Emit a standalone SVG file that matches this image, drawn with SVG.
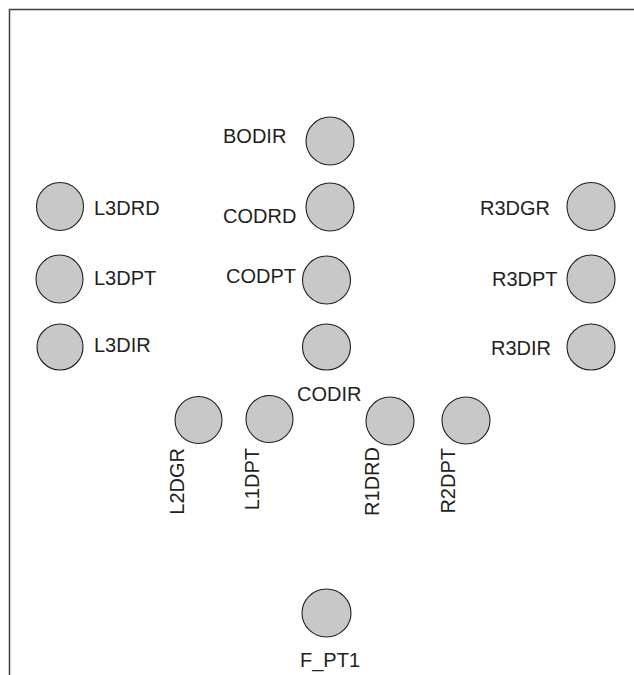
<svg xmlns="http://www.w3.org/2000/svg" width="634" height="675" viewBox="0 0 634 675">
<style>
.n{fill:#c8c8c8;stroke:#231f20;stroke-width:1.1}
.t{font-family:"Liberation Sans",Arial,sans-serif;font-size:20px;fill:#231f20}
.v{font-family:"Liberation Sans",Arial,sans-serif;font-size:20px;fill:#231f20;text-anchor:end}
</style>
<path d="M9.5,675 V9.5 H634" fill="none" stroke="#404040" stroke-width="1.5"/>
<g id="connectors"/>
<g id="BODIR"><ellipse class="n" cx="330" cy="141" rx="24" ry="24"/><text class="t" x="223" y="143">BODIR</text></g>
<g id="CODRD"><ellipse class="n" cx="330" cy="207" rx="24" ry="24"/><text class="t" x="223" y="223">CODRD</text></g>
<g id="CODPT"><ellipse class="n" cx="326.5" cy="280" rx="24" ry="24"/><text class="t" x="226" y="283">CODPT</text></g>
<g id="CODIR"><ellipse class="n" cx="326.5" cy="347" rx="24" ry="23"/><text class="t" x="297" y="401">CODIR</text></g>
<g id="L3DRD"><ellipse class="n" cx="60" cy="206.5" rx="23.5" ry="24"/><text class="t" x="94" y="215">L3DRD</text></g>
<g id="L3DPT"><ellipse class="n" cx="59.5" cy="279" rx="23.5" ry="24"/><text class="t" x="94" y="285">L3DPT</text></g>
<g id="L3DIR"><ellipse class="n" cx="60" cy="347" rx="23" ry="23"/><text class="t" x="94" y="352">L3DIR</text></g>
<g id="R3DGR"><ellipse class="n" cx="591" cy="206.5" rx="24" ry="24"/><text class="t" x="480" y="215">R3DGR</text></g>
<g id="R3DPT"><ellipse class="n" cx="591" cy="279" rx="24" ry="24"/><text class="t" x="492" y="286">R3DPT</text></g>
<g id="R3DIR"><ellipse class="n" cx="591" cy="347" rx="24" ry="23"/><text class="t" x="491" y="355">R3DIR</text></g>
<g id="L2DGR"><ellipse class="n" cx="198.5" cy="420" rx="23.5" ry="23.5"/><text class="v" transform="translate(184,448) rotate(-90)">L2DGR</text></g>
<g id="L1DPT"><ellipse class="n" cx="269.5" cy="419" rx="23.5" ry="23.5"/><text class="v" transform="translate(258.5,448) rotate(-90)">L1DPT</text></g>
<g id="R1DRD"><ellipse class="n" cx="390" cy="421" rx="24" ry="24"/><text class="v" transform="translate(379,447) rotate(-90)">R1DRD</text></g>
<g id="R2DPT"><ellipse class="n" cx="466" cy="420.5" rx="24" ry="23.5"/><text class="v" transform="translate(455,448) rotate(-90)">R2DPT</text></g>
<g id="F_PT1"><ellipse class="n" cx="326.5" cy="613" rx="24.5" ry="24"/><text class="t" x="300" y="667">F_PT1</text></g>
</svg>
